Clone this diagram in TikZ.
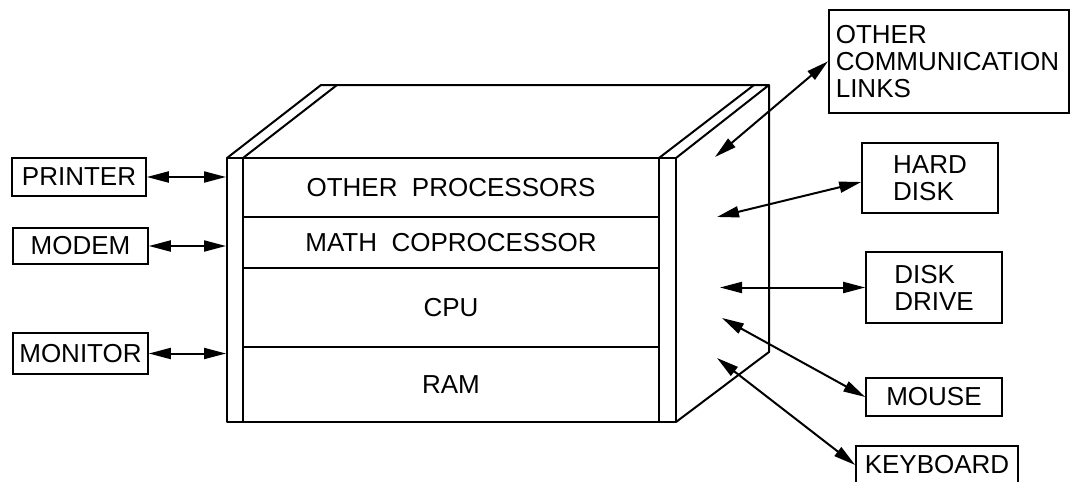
\documentclass[tikz,border=0pt]{standalone}
\usepackage{fontspec}
\setmainfont{Liberation Sans}
\usetikzlibrary{positioning,arrows.meta}
\tikzset{
  >={Triangle[length=22pt,width=11pt]},
  dev/.style={draw,line width=1.6pt,inner sep=0pt,font=\fontsize{26}{27}\selectfont,minimum height=38pt},
  devm/.style={dev,align=left},
  layer/.style={draw,line width=1.6pt,inner sep=0pt,minimum width=416pt,font=\fontsize{26}{27}\selectfont},
  cab/.style={line width=2pt,line join=round},
  strip/.style={draw,cab,inner sep=0pt,minimum height=264pt},
  link/.style={<->,line width=2pt},
}
\begin{document}
\begin{tikzpicture}[x=1pt,y=-1pt]
  \useasboundingbox (0,0) rectangle (1072,482);
  % cabinet: top and side faces
  \draw[cab] (227,158) -- (321,85) -- (769,85) -- (676,158);
  \draw[cab] (243,158) -- (337,85);
  \draw[cab] (659,158) -- (754,85);
  \draw[cab] (769,85) -- (769,352) -- (676,422);
  \node[strip,minimum width=16pt] (lstrip) at (235,290) {};
  \node[strip,minimum width=17pt] (rstrip) at (667.5,290) {};
  % front face layers
  \node[layer,minimum height=59pt] (oproc) at (451,187.5) {OTHER~~PROCESSORS};
  \node[layer,minimum height=51pt] (mathc) at (451,242.5) {MATH~~COPROCESSOR};
  \node[layer,minimum height=79pt] (cpu) at (451,307.5) {CPU};
  \node[layer,minimum height=75pt] (ram) at (451,384.5) {RAM};
  % devices on the left
  \node[dev,minimum width=134pt] (printer) at (79,177) {PRINTER};
  \node[dev,minimum width=135pt,minimum height=36pt] (modem) at (80.5,246) {MODEM};
  \node[dev,minimum width=135pt,minimum height=41pt] (monitor) at (80.5,353.5) {MONITOR};
  \draw[link] (printer) -- (printer -| lstrip.west);
  \draw[link] (modem) -- (modem -| lstrip.west);
  \draw[link] (monitor) -- (monitor -| lstrip.west);
  % devices on the right
  \node[devm,anchor=north west,minimum width=240pt,minimum height=103pt,text width=226pt,inner xsep=7pt] (comm) at (828,9) {OTHER\\COMMUNICATION\\LINKS};
  \node[devm,minimum width=136pt,minimum height=70pt] (hard) at (930,178) {HARD\\DISK};
  \node[devm,minimum width=136pt,minimum height=71pt] (drive) at (934,287.5) {DISK\\DRIVE};
  \node[dev,minimum width=136pt] (mouse) at (934,397) {MOUSE};
  \node[dev,minimum width=162pt] (keyb) at (937,465) {KEYBOARD};
  \coordinate (pcomm) at (715,157);
  \coordinate (phard) at (717,217);
  \coordinate (pdrive) at (720,287.5);
  \coordinate (pmouse) at (722,318);
  \coordinate (pkeyb) at (717,358);
  \draw[link] (pcomm) -- (comm.west);
  \draw[link] (phard) -- ([yshift=-4pt]hard.west);
  \draw[link] (pdrive) -- (drive.west);
  \draw[link] (pmouse) -- (mouse.west);
  \draw[link] (pkeyb) -- (keyb.west);
\end{tikzpicture}
\end{document}
